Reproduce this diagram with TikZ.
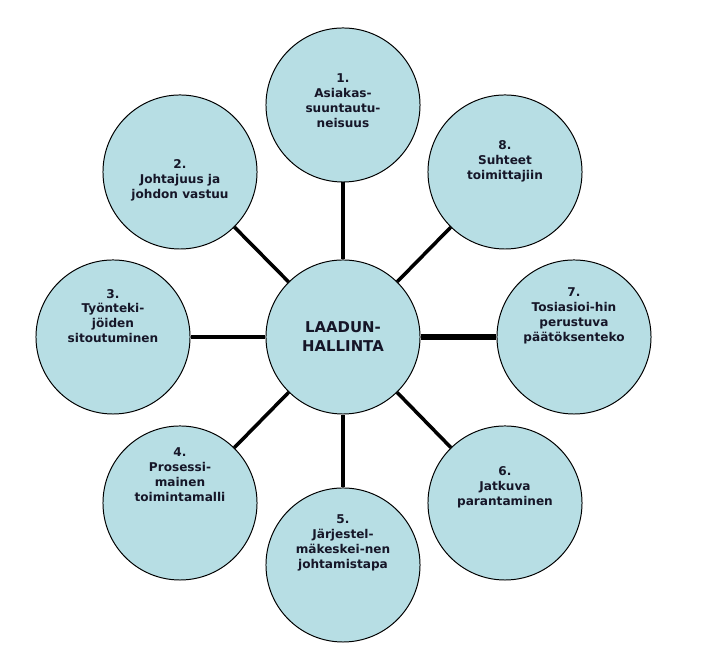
\documentclass[tikz,border=0pt]{standalone}
\usepackage{fontspec}
\setmainfont{DejaVu Sans}
\usetikzlibrary{positioning,calc}
\definecolor{petalblue}{RGB}{183,222,228}
\definecolor{inktext}{RGB}{22,22,40}

\begin{document}
\begin{tikzpicture}[
    x=0.025cm, y=0.025cm,
    petal/.style={draw, circle, minimum size=3.85cm, inner sep=0pt, fill=petalblue, line width=0.7pt},
    petaltext/.style={align=center, font=\bfseries\fontsize{8.6}{10.6}\selectfont, text=inktext},
    hubtext/.style={align=center, font=\bfseries\fontsize{10.6}{13.6}\selectfont, text=inktext},
    spoke/.style={line width=2.5pt},
    wide/.style={line width=3.9pt}
]
\useasboundingbox (0,0) rectangle (706,668);

\node[petal] (hub) at (343,331) {};
\node[petal] (c1) at (343,563) {};
\node[petal] (c2) at (180,496) {};
\node[petal] (c3) at (113,331) {};
\node[petal] (c4) at (180,165) {};
\node[petal] (c5) at (343,103) {};
\node[petal] (c6) at (505,165) {};
\node[petal] (c7) at (574,331) {};
\node[petal] (c8) at (505,496) {};

\node[hubtext] (hubname) at (hub) {LAADUN-\\HALLINTA};
\node[petaltext] (t1) at ($(c1)+(0,4)$) {1.\\Asiakas-\\suuntautu-\\neisuus};
\node[petaltext] (t2) at ($(c2)+(0,-8)$) {2.\\Johtajuus ja\\johdon vastuu};
\node[petaltext] (t3) at ($(c3)+(0,21)$) {3.\\Työnteki-\\jöiden\\sitoutuminen};
\node[petaltext] (t4) at ($(c4)+(0,28)$) {4.\\Prosessi-\\mainen\\toimintamalli};
\node[petaltext] (t5) at ($(c5)+(0,22)$) {5.\\Järjestel-\\mäkeskei-nen\\johtamistapa};
\node[petaltext] (t6) at ($(c6)+(0,16)$) {6.\\Jatkuva\\parantaminen};
\node[petaltext] (t7) at ($(c7)+(0,21)$) {7.\\Tosiasioi-hin\\perustuva\\päätöksenteko};
\node[petaltext] (t8) at ($(c8)+(0,11)$) {8.\\Suhteet\\toimittajiin};

\draw[spoke] (hub) -- (c1);
\draw[spoke] (hub) -- (c2);
\draw[spoke] (hub) -- (c3);
\draw[spoke] (hub) -- (c4);
\draw[spoke] (hub) -- (c5);
\draw[spoke] (hub) -- (c6);
\draw[wide] (hub) -- (c7);
\draw[spoke] (hub) -- (c8);
\end{tikzpicture}
\end{document}
